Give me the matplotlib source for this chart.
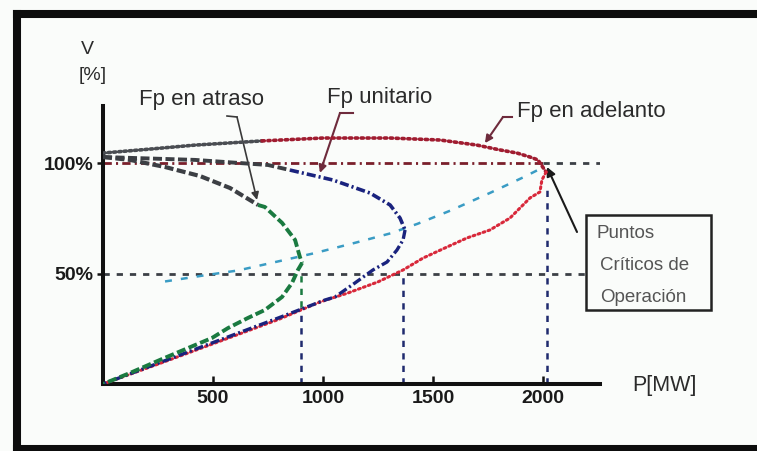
import matplotlib
matplotlib.use("Agg")
import matplotlib.pyplot as plt
from matplotlib.lines import Line2D
from matplotlib.patches import Rectangle

plt.rcParams['font.family'] = ['Liberation Sans', 'DejaVu Sans']
plt.rcParams['lines.scale_dashes'] = False

W, H = 757, 451

##
## datos (P en MW, V en %)
##
# Fp en atraso (verde)
atraso_sup_p = [0, 123, 282, 441, 577, 705, 736, 814, 873, 895, 905]
atraso_sup_v = [102.7, 101.4, 98.2, 94.1, 88.7, 81.0, 80.1, 72.9, 65.2, 57.5, 54.8]
atraso_inf_p = [905, 886, 859, 814, 736, 659, 568, 495, 418, 259, 123, 0]
atraso_inf_v = [54.8, 51.6, 45.7, 39.4, 33.5, 29.9, 25.3, 20.8, 17.6, 10.9, 5.0, 0]

# Fp unitario (azul)
unit_sup_p = [0, 418, 750, 850, 1045, 1214, 1305, 1350, 1373]
unit_sup_v = [102.7, 101.4, 99.1, 96.8, 92.3, 86.4, 81.0, 75.1, 69.7]
unit_inf_p = [1373, 1364, 1336, 1291, 1227, 1145, 1055, 1009, 800, 600, 400, 200, 0]
unit_inf_v = [69.7, 65.2, 60.6, 55.2, 51.6, 45.7, 39.4, 38.0, 30.0, 22.5, 15.0, 7.5, 0]

# Fp en adelanto (rojo)
adel_sup_p = [0, 214, 418, 723, 1000, 1305, 1532, 1700, 1805, 1882, 1941, 1977, 2014]
adel_sup_v = [104.5, 106.3, 108.1, 110.0, 111.3, 111.3, 110.4, 108.1, 105.9, 104.5, 102.7, 101.4, 95.9]
adel_inf_p = [2014, 1995, 1986, 1941, 1895, 1850, 1759, 1655, 1564, 1455, 1364, 1250, 1114, 986, 800, 500, 250, 0]
adel_inf_v = [95.9, 92.3, 86.9, 84.2, 79.6, 75.1, 69.7, 66.1, 62.0, 57.0, 51.6, 46.2, 41.2, 37.1, 29.3, 18.2, 9.0, 0]

# lugar de los puntos criticos (celeste)
lugar_p = [282, 450, 615, 815, 957, 1150, 1308, 1430, 1580, 1760, 1910, 1990]
lugar_v = [46.4, 49.0, 51.4, 55.9, 59.1, 64.0, 68.2, 72.5, 78.5, 86.5, 93.5, 97.5]

# puntos criticos (lineas verticales)
crit_p = [900, 1364, 2020]
crit_v = [50, 50, 89]

p_ticks = [500, 1000, 1500, 2000]
v_ticks = [50, 100]
v_labels = ["50%", "100%"]

def fx(x):
    return x / W

def fy(y):
    return 1 - y / H


fig = plt.figure(figsize=(W / 100, H / 100), dpi=100, facecolor="#fafcfa")

# ejes: origen en (103, 384) px
ax = fig.add_axes([fx(103), fy(384), fx(600) - fx(103), fy(106) - fy(384)])
ax.set_facecolor("none")
ax.set_xlim(0, (600 - 103) / 0.22)
ax.set_ylim(0, (384 - 106) / 2.21)

for s in ["top", "right"]:
    ax.spines[s].set_visible(False)
for s in ["left", "bottom"]:
    ax.spines[s].set_linewidth(2.9)
    ax.spines[s].set_color("#111111")

ax.set_xticks(p_ticks)
ax.set_xticklabels([str(p) for p in p_ticks])
ax.set_yticks(v_ticks)
ax.set_yticklabels(v_labels)
ax.tick_params(axis="x", direction="in", length=6, width=1.8, pad=4,
               labelsize=14, labelcolor="#1a1a1a", color="#111111")
ax.tick_params(axis="y", direction="out", length=4, width=1.8, pad=3,
               labelsize=14, labelcolor="#1a1a1a", color="#111111")
for lab in ax.get_xticklabels() + ax.get_yticklabels():
    lab.set_fontweight("bold")

##
## lineas de referencia
##
xmax = ax.get_xlim()[1]
ax.plot([0, 2214], [50, 50], color="#3c4046", lw=2.0, dashes=(4.5, 5), zorder=2, clip_on=False)
ax.plot([0, 2000], [100, 100], color="#7a1f2b", lw=2.0, dashes=(6, 3, 1.5, 3), zorder=2)
ax.plot([2000, xmax], [100, 100], color="#3c4046", lw=2.0, dashes=(4.5, 5), zorder=2)

ax.plot([crit_p[0], crit_p[0]], [0, 35], color="#1f2a6e", lw=1.8, dashes=(4.5, 4.5), zorder=2)
ax.plot([crit_p[0], crit_p[0]], [35, crit_v[0]], color="#1a7a40", lw=1.8, dashes=(4.5, 4.5), zorder=2)
ax.plot([crit_p[1], crit_p[1]], [0, crit_v[1]], color="#1f2a6e", lw=1.8, dashes=(4.5, 4.5), zorder=2)
ax.plot([crit_p[2], crit_p[2]], [0, crit_v[2]], color="#1f2a6e", lw=1.8, dashes=(4.5, 4.5), zorder=2)

ax.plot(lugar_p, lugar_v, color="#3a9cc4", lw=1.8, dashes=(5, 6.5), zorder=3)

##
## curvas P-V
##
# adelanto
ax.plot(adel_sup_p[:4], adel_sup_v[:4], color="#4a4d52", lw=2.6, dashes=(1.6, 2.2),
        dash_capstyle="round", zorder=4)
ax.plot(adel_sup_p[3:], adel_sup_v[3:], color="#a01c30", lw=2.6, dashes=(1.6, 2.6),
        dash_capstyle="round", zorder=4)
ax.plot(adel_inf_p, adel_inf_v, color="#d8283a", lw=2.2, dashes=(1.4, 2.4),
        dash_capstyle="round", zorder=4)

# unitario
ax.plot(unit_sup_p[:4], unit_sup_v[:4], color="#3c3f44", lw=2.8, dashes=(6.5, 2.5), zorder=5)
ax.plot(unit_sup_p[3:], unit_sup_v[3:], color="#1a237e", lw=2.6, dashes=(6.5, 2.2, 1.5, 2.2), zorder=5)
ax.plot(unit_inf_p, unit_inf_v, color="#1a237e", lw=2.4, dashes=(6.5, 2.2, 1.5, 2.2), zorder=5)

# atraso
ax.plot(atraso_sup_p[:6], atraso_sup_v[:6], color="#3c3f44", lw=3.0, dashes=(6.5, 2.5), zorder=6)
ax.plot(atraso_sup_p[5:], atraso_sup_v[5:], color="#1a7a40", lw=2.8, dashes=(6.5, 2.5), zorder=6)
ax.plot(atraso_inf_p, atraso_inf_v, color="#1a7a40", lw=2.8, dashes=(6.5, 2.5), zorder=6)

##
## textos
##
txt = dict(color="#2b2b2b", va="center", ha="left")
fig.text(fx(81), fy(50), "V", fontsize=14, **txt)
fig.text(fx(79), fy(76), "[%]", fontsize=14, **txt)
fig.text(fx(632), fy(386), "P[MW]", fontsize=15.5, **txt)

fig.text(fx(139), fy(100), "Fp en atraso", fontsize=16, **txt)
fig.text(fx(327), fy(98), "Fp unitario", fontsize=16, **txt)
fig.text(fx(517), fy(112), "Fp en adelanto", fontsize=16, **txt)

# flechas
def leader(x0, y0, x1, y1, tip, color, lw):
    fig.add_artist(Line2D([fx(x0), fx(x1)], [fy(y0), fy(y1)], color=color, lw=lw))
    ax.annotate("", xy=tip, xycoords="data", xytext=(fx(x1), fy(y1)),
                textcoords="figure fraction", annotation_clip=False,
                arrowprops=dict(arrowstyle="-|>", color=color, lw=lw,
                                mutation_scale=11, shrinkA=0, shrinkB=0))

leader(227, 116, 237, 117, (700, 83.3), "#3a3a3a", 1.2)
leader(353, 113, 340, 113, (986, 95.5), "#6e2b3c", 1.5)
leader(512, 117, 503, 117, (1736, 109), "#6e2b3c", 1.5)
ax.annotate("", xy=(2018, 98.2), xycoords="data", xytext=(fx(577), fy(232)),
            textcoords="figure fraction", annotation_clip=False,
            arrowprops=dict(arrowstyle="-|>", color="#1a1a1a", lw=1.5,
                            mutation_scale=13, shrinkA=0, shrinkB=0))

# recuadro
fig.add_artist(Rectangle((fx(586), fy(310)), fx(711) - fx(586), fy(215) - fy(310),
                         fill=False, ec="#222222", lw=1.8))
box = dict(color="#555555", va="center", ha="left", fontsize=13.5)
fig.text(fx(597), fy(233), "Puntos", **box)
fig.text(fx(600), fy(265), "Críticos de", **box)
fig.text(fx(600), fy(298), "Operación", **box)

# marco exterior
frame = dict(color="#0d0d0d", lw=5.8, solid_capstyle="projecting")
fig.add_artist(Line2D([fx(17), 1.0], [fy(14), fy(14)], **frame))
fig.add_artist(Line2D([fx(17), fx(17)], [fy(14), 0.0], **frame))
fig.add_artist(Line2D([fx(17), 1.0], [fy(449), fy(449)], **frame))

fig.savefig("out.png", dpi=100, facecolor=fig.get_facecolor())
